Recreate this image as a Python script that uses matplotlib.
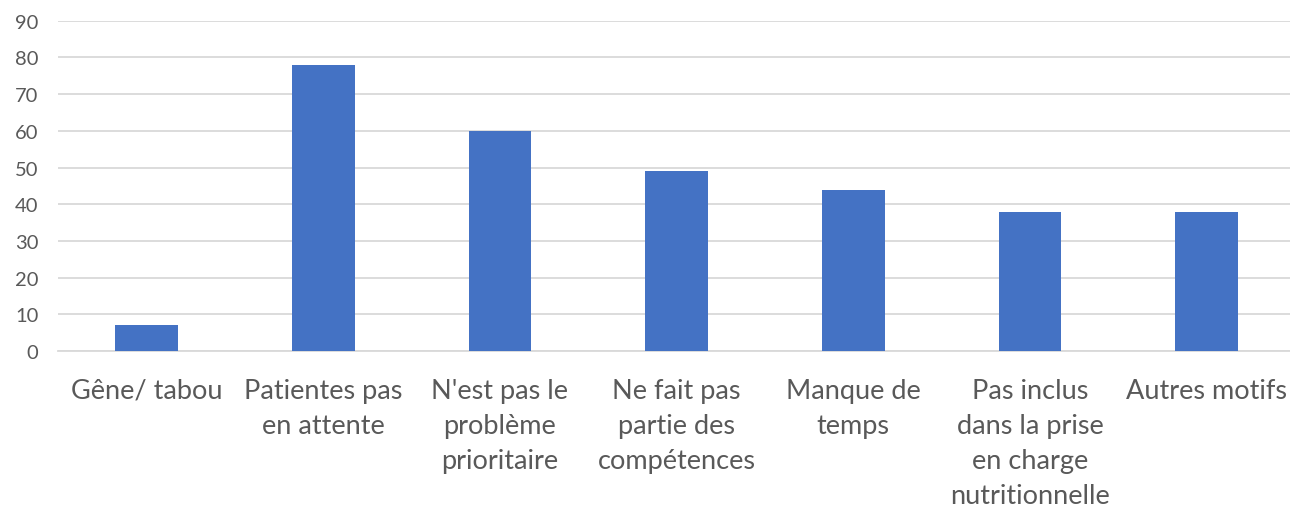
import matplotlib
matplotlib.use("Agg")
import matplotlib.pyplot as plt

# ---------- Data ----------
categories = [
    "Gêne/ tabou",
    "Patientes pas\nen attente",
    "N'est pas le\nproblème\nprioritaire",
    "Ne fait pas\npartie des\ncompétences",
    "Manque de\ntemps",
    "Pas inclus\ndans la prise\nen charge\nnutritionnelle",
    "Autres motifs",
]
values = [7, 78, 60, 49, 44, 38, 38]
y_ticks = [0, 10, 20, 30, 40, 50, 60, 70, 80, 90]

# ---------- Plot ----------
plt.rcParams["font.family"] = ["Lato", "DejaVu Sans"]
text_color = "#595959"

fig = plt.figure(figsize=(12.9, 5.06), dpi=100)
ax = fig.add_axes([0.045, 0.304, 0.959, 0.653])

x = range(len(categories))
ax.bar(x, values, width=0.355, color="#4472c4", zorder=3)

ax.set_xlim(-0.5, len(categories) - 0.5)
ax.set_ylim(0, 90)
ax.set_yticks(y_ticks)
ax.set_yticklabels([str(t) for t in y_ticks])
ax.set_xticks(list(x))
ax.set_xticklabels(categories, linespacing=1.5, va="top")

ax.tick_params(axis="y", length=0, pad=14, labelsize=14.5, labelcolor=text_color)
ax.tick_params(axis="x", length=0, pad=19, labelsize=19.5, labelcolor=text_color)

ax.grid(axis="y", color="#d9d9d9", linewidth=1.3, zorder=0)
for side in ["top", "right", "left"]:
    ax.spines[side].set_visible(False)
ax.spines["bottom"].set_color("#d9d9d9")
ax.spines["bottom"].set_linewidth(1.3)

fig.savefig("out.png", dpi=100)
